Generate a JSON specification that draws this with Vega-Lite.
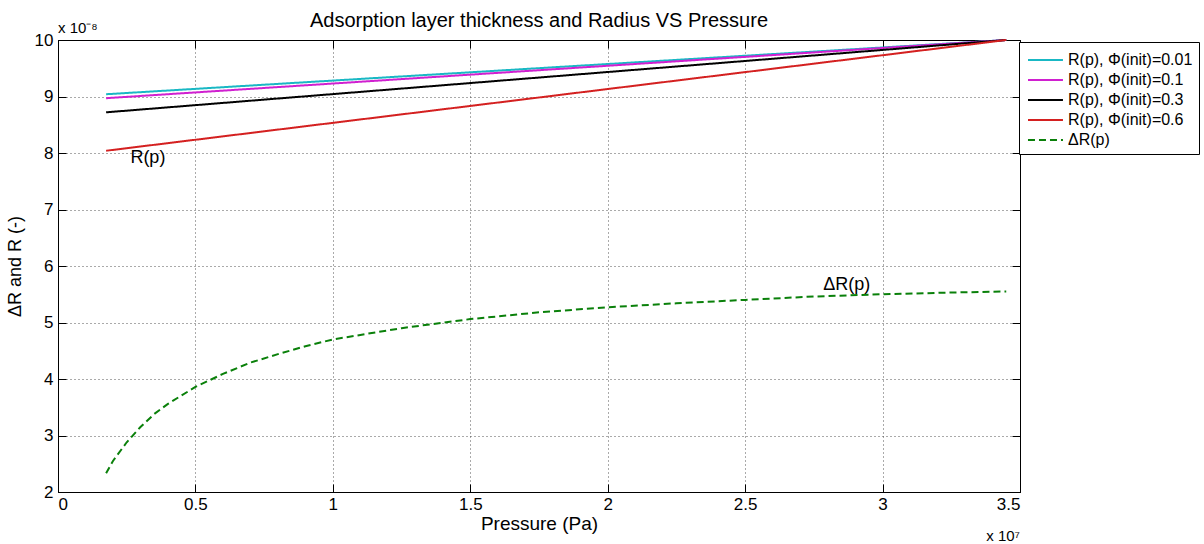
{
  "$schema": "https://vega.github.io/schema/vega-lite/v6.json",
  "width": 962,
  "height": 452,
  "autosize": {"type": "none"},
  "padding": {"left": 58, "top": 40, "right": 184, "bottom": 52},
  "background": "white",
  "config": {
    "font": "Liberation Sans",
    "view": {"stroke": "black", "strokeWidth": 1},
    "axis": {
      "domainColor": "black",
      "tickColor": "black",
      "labelColor": "black",
      "titleColor": "black",
      "labelFontSize": 17,
      "titleFontSize": 18,
      "titleFontWeight": "normal",
      "gridColor": "#444444",
      "gridDash": [1, 3],
      "gridOpacity": 0.9
    }
  },
  "title": {
    "text": "Adsorption layer thickness and Radius VS Pressure",
    "fontSize": 20,
    "fontWeight": "normal",
    "color": "black",
    "offset": -10
  },
  "datasets": {
    "curves": [
      {"series": "R(p), Φ(init)=0.01", "p": 0.175, "v": 9.04},
      {"series": "R(p), Φ(init)=0.01", "p": 3.45, "v": 10.0},
      {"series": "R(p), Φ(init)=0.1", "p": 0.175, "v": 8.97},
      {"series": "R(p), Φ(init)=0.1", "p": 3.45, "v": 10.0},
      {"series": "R(p), Φ(init)=0.3", "p": 0.175, "v": 8.72},
      {"series": "R(p), Φ(init)=0.3", "p": 3.45, "v": 10.0},
      {"series": "R(p), Φ(init)=0.6", "p": 0.175, "v": 8.04},
      {"series": "R(p), Φ(init)=0.6", "p": 3.45, "v": 10.0},
      {"series": "ΔR(p)", "p": 0.175, "v": 2.33},
      {"series": "ΔR(p)", "p": 0.2, "v": 2.55},
      {"series": "ΔR(p)", "p": 0.25, "v": 2.88},
      {"series": "ΔR(p)", "p": 0.3, "v": 3.15},
      {"series": "ΔR(p)", "p": 0.35, "v": 3.38},
      {"series": "ΔR(p)", "p": 0.4, "v": 3.56},
      {"series": "ΔR(p)", "p": 0.5, "v": 3.86},
      {"series": "ΔR(p)", "p": 0.6, "v": 4.09},
      {"series": "ΔR(p)", "p": 0.7, "v": 4.29},
      {"series": "ΔR(p)", "p": 0.8, "v": 4.44},
      {"series": "ΔR(p)", "p": 0.9, "v": 4.58},
      {"series": "ΔR(p)", "p": 1.0, "v": 4.7},
      {"series": "ΔR(p)", "p": 1.25, "v": 4.9},
      {"series": "ΔR(p)", "p": 1.5, "v": 5.06},
      {"series": "ΔR(p)", "p": 1.75, "v": 5.18},
      {"series": "ΔR(p)", "p": 2.0, "v": 5.27},
      {"series": "ΔR(p)", "p": 2.25, "v": 5.34},
      {"series": "ΔR(p)", "p": 2.5, "v": 5.4},
      {"series": "ΔR(p)", "p": 2.75, "v": 5.46},
      {"series": "ΔR(p)", "p": 3.0, "v": 5.5},
      {"series": "ΔR(p)", "p": 3.25, "v": 5.53},
      {"series": "ΔR(p)", "p": 3.45, "v": 5.55}
    ],
    "notes": [
      {"label": "R(p)", "p": 0.327, "v": 7.91},
      {"label": "ΔR(p)", "p": 2.87, "v": 5.66}
    ],
    "ymult": [{"label": "x 10⁻⁸", "p": 0, "v": 10}],
    "xmult": [{"label": "x 10⁷", "p": 3.5, "v": 2}]
  },
  "layer": [
    {
      "data": {"name": "curves"},
      "mark": {"type": "line", "strokeWidth": 2},
      "encoding": {
        "x": {
          "field": "p", "type": "quantitative",
          "scale": {"domain": [0, 3.5], "nice": false, "zero": false},
          "axis": {"orient": "bottom", "title": "Pressure (Pa)", "titleFontSize": 19, "values": [0, 0.5, 1, 1.5, 2, 2.5, 3, 3.5], "format": "~g", "tickSize": -8, "labelPadding": 12, "grid": true, "titlePadding": 2}
        },
        "y": {
          "field": "v", "type": "quantitative",
          "scale": {"domain": [2, 10], "nice": false, "zero": false},
          "axis": {"orient": "left", "title": "ΔR and R (-)", "values": [2, 3, 4, 5, 6, 7, 8, 9, 10], "format": "d", "tickSize": -8, "labelPadding": 13, "grid": true, "titlePadding": 10}
        },
        "color": {
          "field": "series", "type": "nominal",
          "scale": {
            "domain": ["R(p), Φ(init)=0.01", "R(p), Φ(init)=0.1", "R(p), Φ(init)=0.3", "R(p), Φ(init)=0.6", "ΔR(p)"],
            "range": ["#19b8c4", "#d020d0", "#000000", "#d42020", "#0a800a"]
          },
          "legend": {
            "orient": "none", "legendX": 961, "legendY": 2,
            "title": null, "symbolType": "M-0.82,0H2.36", "symbolSize": 484, "symbolStrokeWidth": 2,
            "labelFontSize": 16, "labelColor": "black", "labelOffset": 19,
            "rowPadding": 0, "padding": 6, "strokeColor": "black", "fillColor": "white"
          }
        },
        "strokeDash": {
          "field": "series", "type": "nominal",
          "scale": {
            "domain": ["R(p), Φ(init)=0.01", "R(p), Φ(init)=0.1", "R(p), Φ(init)=0.3", "R(p), Φ(init)=0.6", "ΔR(p)"],
            "range": [[1, 0], [1, 0], [1, 0], [1, 0], [7, 4]]
          },
          "legend": {
            "orient": "none", "legendX": 961, "legendY": 2,
            "title": null, "symbolType": "M-0.82,0H2.36", "symbolSize": 484, "symbolStrokeWidth": 2,
            "labelFontSize": 16, "labelColor": "black", "labelOffset": 19,
            "rowPadding": 0, "padding": 6, "strokeColor": "black", "fillColor": "white"
          }
        }
      }
    },
    {
      "data": {"name": "curves"},
      "mark": {"type": "point", "opacity": 0},
      "encoding": {
        "x": {"field": "p", "type": "quantitative", "axis": {"orient": "top", "title": null, "labels": false, "values": [0, 0.5, 1, 1.5, 2, 2.5, 3, 3.5], "tickSize": -8, "grid": false}},
        "y": {"field": "v", "type": "quantitative", "axis": {"orient": "right", "title": null, "labels": false, "values": [2, 3, 4, 5, 6, 7, 8, 9, 10], "tickSize": -8, "grid": false}}
      }
    },
    {
      "data": {"name": "notes"},
      "mark": {"type": "text", "fontSize": 18, "color": "black", "align": "center", "baseline": "middle"},
      "encoding": {
        "x": {"field": "p", "type": "quantitative", "axis": null},
        "y": {"field": "v", "type": "quantitative", "axis": null},
        "text": {"field": "label"}
      }
    },
    {
      "data": {"name": "ymult"},
      "mark": {"type": "text", "fontSize": 15, "color": "black", "align": "left", "baseline": "bottom", "dy": -4},
      "encoding": {
        "x": {"field": "p", "type": "quantitative", "axis": null},
        "y": {"field": "v", "type": "quantitative", "axis": null},
        "text": {"field": "label"}
      }
    },
    {
      "data": {"name": "xmult"},
      "mark": {"type": "text", "fontSize": 15, "color": "black", "align": "right", "baseline": "middle", "dy": 44},
      "encoding": {
        "x": {"field": "p", "type": "quantitative", "axis": null},
        "y": {"field": "v", "type": "quantitative", "axis": null},
        "text": {"field": "label"}
      }
    }
  ],
  "resolve": {"axis": {"x": "independent", "y": "independent"}}
}
